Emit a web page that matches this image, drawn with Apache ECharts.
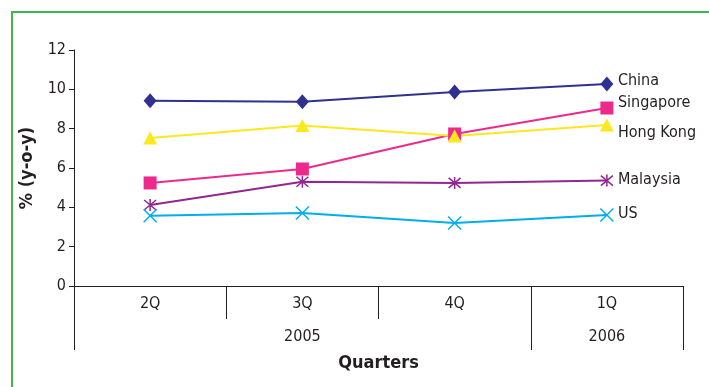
<!DOCTYPE html>
<html>
<head>
<meta charset="utf-8">
<script src="https://cdn.jsdelivr.net/npm/echarts@6/dist/echarts.min.js"></script>
<style>
  html, body { margin: 0; padding: 0; background: #fff; }
  #main { width: 709px; height: 387px; }
</style>
</head>
<body>
<div id="main"></div>
<script>
// quarters and years (bottom axis)
var quarters = ['2Q', '3Q', '4Q', '1Q'];
var years = ['', '2005', '', '2006'];

// growth, % y-o-y
var china = [9.42, 9.37, 9.86, 10.27];
var singapore = [5.24, 5.95, 7.73, 9.05];
var hongKong = [7.52, 8.16, 7.63, 8.19];
var malaysia = [4.12, 5.3, 5.24, 5.36];
var us = [3.57, 3.71, 3.2, 3.61];

var yTicks = { min: 0, max: 12, step: 2 };

var font = '"Liberation Sans Narrow", "DejaVu Sans Condensed", "Arial Narrow", sans-serif';
var ink = '#231f20';

var dom = document.getElementById('main');
var myChart = echarts.init(dom);

// one line series, label sits at the end of the line
function line(name, data, color, symbol, size, dy, extra) {
    var s = {
        name: name,
        type: 'line',
        data: data,
        symbol: symbol,
        symbolSize: size,
        showAllSymbol: true,
        lineStyle: { color: color, width: 2 },
        itemStyle: { color: color },
        endLabel: {
            show: true,
            formatter: '{a}',
            color: ink,
            fontFamily: font,
            fontSize: 16,
            distance: 11,
            offset: [0, dy]
        },
        emphasis: { disabled: true },
        animation: false
    };
    if (extra) s.itemStyle = extra;
    return s;
}

var option = {
    backgroundColor: '#fff',
    animation: false,
    grid: { left: 74, right: 26, top: 50, bottom: 101 },
    graphic: [{
        type: 'rect',
        shape: { x: 12, y: 12, width: 740, height: 420 },
        style: { fill: null, stroke: '#3fb54b', lineWidth: 2 },
        silent: true
    }],
    xAxis: [
        {
            type: 'category',
            data: quarters,
            boundaryGap: true,
            axisLine: { lineStyle: { color: ink, width: 1 } },
            axisTick: { show: true, length: 33, lineStyle: { color: ink } },
            axisLabel: { color: ink, fontFamily: font, fontSize: 16, margin: 10 }
        },
        {
            type: 'category',
            data: years,
            position: 'bottom',
            boundaryGap: true,
            axisLine: { show: false },
            axisTick: {
                show: true, length: 64, lineStyle: { color: ink },
                interval: function (index) { return index === 0 || index === 3; }
            },
            axisLabel: { color: ink, fontFamily: font, fontSize: 16, margin: 43, interval: 0 },
            name: 'Quarters',
            nameLocation: 'middle',
            nameGap: 68,
            nameTextStyle: { color: ink, fontFamily: font, fontSize: 18, fontWeight: 'bold' }
        }
    ],
    yAxis: {
        type: 'value',
        min: yTicks.min,
        max: yTicks.max,
        interval: yTicks.step,
        name: '% (y-o-y)',
        nameLocation: 'middle',
        nameGap: 37,
        nameTextStyle: { color: ink, fontFamily: font, fontSize: 18, fontWeight: 'bold' },
        axisLine: { show: true, lineStyle: { color: ink, width: 1 } },
        axisTick: { show: true, length: 5, lineStyle: { color: ink } },
        axisLabel: { color: ink, fontFamily: font, fontSize: 16, margin: 8 },
        splitLine: { show: false }
    },
    series: [
        line('China', china, '#2e3192', 'diamond', [13, 15], -3),
        line('Singapore', singapore, '#ec2a8c', 'rect', 13, -5),
        line('Hong Kong', hongKong, '#fbe81e', 'triangle', [14, 13], 8),
        line('Malaysia', malaysia, '#92278f', 'path://M0,0L10,10M10,0L0,10M5,-1L5,11', 12, -1,
            { color: '#92278f', borderColor: '#92278f', borderWidth: 1.5 }),
        line('US', us, '#00aeef', 'path://M0,0L10,10M10,0L0,10', 13, -1,
            { color: '#00aeef', borderColor: '#00aeef', borderWidth: 1.5 })
    ]
};

if (option && typeof option === 'object') {
    myChart.setOption(option, true);
}
</script>
</body>
</html>
